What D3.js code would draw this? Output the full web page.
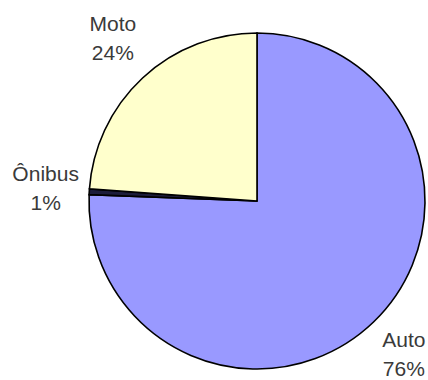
<!DOCTYPE html>
<html>
<head>
<meta charset="utf-8">
<script src="https://cdn.jsdelivr.net/npm/d3@7"></script>
<style>
  html, body { margin: 0; padding: 0; background: #fff; }
  svg { display: block; }
  text { font-family: "Liberation Sans", Arial, sans-serif; }
</style>
</head>
<body>
<svg id="chart" width="428" height="380"></svg>
<script>
// Shares of vehicle types (percent), clockwise from 12 o'clock
const categories = ["Auto", "Ônibus", "Moto"];
const values = [75.6, 0.55, 23.85];
const colors = ["#9999FF", "#1c1c3a", "#FFFFCC"];
// vertical nudge of each label block, in px
const labelNudge = [9, 7, 0];

const cx = 257, cy = 201, radius = 168;

const svg = d3.select("#chart");
const g = svg.append("g").attr("transform", `translate(${cx},${cy})`);

const data = categories.map((c, i) => ({ name: c, value: values[i], color: colors[i], nudge: labelNudge[i] }));
const total = d3.sum(values);
const pct = d3.format(".0%");

const pie = d3.pie().value(d => d.value).sort(null);
const arcs = pie(data);
const arc = d3.arc().innerRadius(0).outerRadius(radius);

g.selectAll("path.slice")
  .data(arcs)
  .join("path")
  .attr("class", "slice")
  .attr("d", arc)
  .attr("fill", d => d.data.color)
  .attr("stroke", "#000")
  .attr("stroke-width", 1.6)
  .attr("stroke-linejoin", "miter");

// Labels sit outside the rim, along each slice's mid-angle
const labelArc = d3.arc().innerRadius(radius * 1.26).outerRadius(radius * 1.26);

const labels = g.selectAll("text.lbl")
  .data(arcs)
  .join("text")
  .attr("class", "lbl")
  .attr("text-anchor", "middle")
  .attr("font-size", 21)
  .attr("fill", "#3a3a3a")
  .attr("transform", d => {
    const [x, y] = labelArc.centroid(d);
    return `translate(${x},${y + d.data.nudge})`;
  });

labels.append("tspan").attr("x", 0).attr("y", -15).text(d => d.data.name);
labels.append("tspan").attr("x", 0).attr("y", 14).text(d => pct(d.data.value / total));
</script>
</body>
</html>
